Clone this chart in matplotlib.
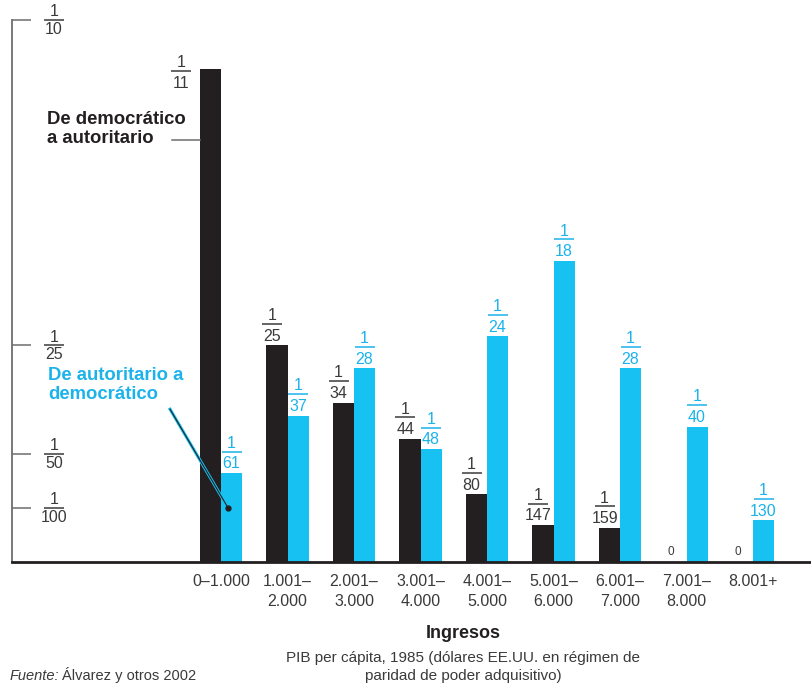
import numpy as np
import matplotlib
matplotlib.use("Agg")
import matplotlib.pyplot as plt
from matplotlib.transforms import offset_copy, blended_transform_factory

plt.rcParams["font.family"] = ["Liberation Sans", "DejaVu Sans"]

# --- data: probabilities shown as 1/N (0 means no transition) ---
categories = ["0–1.000", "1.001–\n2.000", "2.001–\n3.000", "3.001–\n4.000",
              "4.001–\n5.000", "5.001–\n6.000", "6.001–\n7.000", "7.001–\n8.000",
              "8.001+"]
dem_to_aut = [11, 25, 34, 44, 80, 147, 159, 0, 0]
aut_to_dem = [61, 37, 28, 48, 24, 18, 28, 40, 130]
ytick_den = [10, 25, 50, 100]

BLACK = "#231f20"
BLUE = "#17c1f2"
BLUE_TXT = "#1bb3ea"
GRAY = "#6d6e71"
TXT = "#3a3a3a"

fig = plt.figure(figsize=(8.11, 6.86), dpi=100)
ax = fig.add_axes([12 / 811, 124 / 686, 799 / 811, 542 / 686])

x = np.arange(len(categories))
w = 0.316
h_black = [1 / d if d else 0 for d in dem_to_aut]
h_blue = [1 / d if d else 0 for d in aut_to_dem]
ax.bar(x - w / 2, h_black, w, color=BLACK, zorder=2)
ax.bar(x + w / 2, h_blue, w, color=BLUE, zorder=2)

ax.set_xlim(-3.143, 8.872)
ax.set_ylim(0, 0.1)


def frac(xv, yv, den, color, base, dx=0, dy=15.5, gap=3.5, size=11.5, lw=14):
    # "1" over a short bar over the denominator
    t = lambda oy: offset_copy(base, fig=fig, x=dx, y=oy, units="points")
    ax.plot([xv], [yv], marker="_", ms=lw, mew=1.1, color=color,
            transform=t(dy), clip_on=False)
    ax.text(xv, yv, "1", transform=t(dy + 0.5), ha="center", va="bottom",
            color=color, fontsize=size)
    ax.text(xv, yv, str(den), transform=t(dy - gap), ha="center", va="top",
            color=color, fontsize=size)


# labels on bars
for i, d in enumerate(dem_to_aut):
    if d == 0:
        ax.text(x[i] - w / 2, 0, "0", transform=offset_copy(ax.transData, fig=fig, x=-3.5, y=3, units="points"),
                ha="center", va="bottom", fontsize=8.5, color=TXT)
    elif i == 0:
        frac(x[i] - w / 2, h_black[i], d, TXT, ax.transData, dx=-21, dy=-1)
    else:
        frac(x[i] - w / 2, h_black[i], d, TXT, ax.transData, dx=-3.5)
for i, d in enumerate(aut_to_dem):
    frac(x[i] + w / 2, h_blue[i], d, BLUE_TXT, ax.transData)

# y axis: gray spine with inward ticks and fraction labels
ax.spines[["top", "right"]].set_visible(False)
ax.spines["left"].set_color(GRAY)
ax.spines["left"].set_linewidth(1.3)
ax.spines["bottom"].set_color(BLACK)
ax.spines["bottom"].set_linewidth(2)
ax.set_yticks([1 / d for d in ytick_den])
ax.tick_params(axis="y", direction="in", length=13.5, width=1.1, color=GRAY, labelleft=False)
ytrans = blended_transform_factory(ax.transAxes, ax.transData)
for d in ytick_den:
    frac(0.0526, 1 / d, d, TXT, ytrans, dy=0, gap=1.5)

ax.set_xticks(x, categories)
ax.tick_params(axis="x", length=0, pad=9, labelsize=11.5, labelcolor=TXT)
for lab in ax.get_xticklabels():
    lab.set_linespacing(1.35)

# series labels
ax.text(0.0438, 0.799, "De democrático\na autoritario", transform=ax.transAxes,
        fontsize=13.3, fontweight="bold", color=BLACK,
        va="center", ha="left", linespacing=1.22)
y_lead = (562 - 140) / 542 * 0.1
ax.plot([x[0] - w - 0.42, x[0] - w], [y_lead, y_lead], color=GRAY, lw=1.1)

ax.text(0.045, 0.3265, "De autoritario a\ndemocrático", transform=ax.transAxes,
        fontsize=13.3, fontweight="bold", color=BLUE_TXT,
        va="center", ha="left", linespacing=1.22)
lead_x = [x[0] - 0.767, x[0] + w / 3]
lead_y = [0.0282, 0.01]
ax.plot(lead_x, lead_y, color=BLUE, lw=2.2, zorder=3)
ax.plot(lead_x, lead_y, color=BLACK, lw=0.8, zorder=4)
ax.plot(lead_x[1], lead_y[1], "o", color=BLACK, ms=3.5, zorder=5)

# axis titles and source
fig.text(463 / 811, 1 - 634 / 686, "Ingresos", ha="center", va="center",
         fontsize=13, fontweight="bold", color=BLACK)
fig.text(463 / 811, 1 - 667 / 686,
         "PIB per cápita, 1985 (dólares EE.UU. en régimen de\nparidad de poder adquisitivo)",
         ha="center", va="center", fontsize=11, color=TXT, linespacing=1.3)
fig.text(10 / 811, 6 / 686, "Fuente:", style="italic", fontsize=10.5, color=TXT, va="baseline")
fig.text(62 / 811, 6 / 686, "Álvarez y otros 2002", fontsize=10.5, color=TXT, va="baseline")

fig.savefig("out.png", dpi=100)
